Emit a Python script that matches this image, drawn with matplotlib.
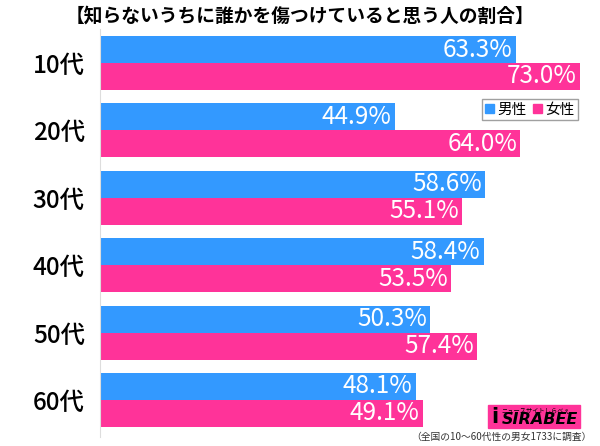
import matplotlib
matplotlib.use('Agg')
import matplotlib.pyplot as plt
from matplotlib.patches import Patch, Rectangle
import numpy as np

plt.rcParams['font.family'] = ['Noto Sans CJK JP', 'DejaVu Sans']

title = '【知らないうちに誰かを傷つけていると思う人の割合】'
categories = ['10代', '20代', '30代', '40代', '50代', '60代']
male = [63.3, 44.9, 58.6, 58.4, 50.3, 48.1]
female = [73.0, 64.0, 55.1, 53.5, 57.4, 49.1]
legend_labels = ['男性', '女性']
note = '（全国の10～60代性の男女1733に調査）'

blue = '#3399ff'
pink = '#ff3399'

fig = plt.figure(figsize=(6.0, 4.46), dpi=100)
ax = fig.add_axes([100 / 600, 1 - 437 / 446, 76 * 6.57 / 600, (437 - 29.3) / 446])

y = np.arange(len(categories))
h = 0.4
ax.barh(y - h / 2, male, height=h, color=blue)
ax.barh(y + h / 2, female, height=h, color=pink)

for i in range(len(categories)):
    ax.text(male[i] - 0.5, y[i] - h / 2, f'{male[i]:.1f}%', color='white',
            ha='right', va='center', fontsize=17.5)
    ax.text(female[i] - 0.5, y[i] + h / 2, f'{female[i]:.1f}%', color='white',
            ha='right', va='center', fontsize=17.5)

ax.set_xlim(0, 76)
ax.set_ylim(5.55, -0.5)
ax.set_yticks(y)
ax.set_yticklabels(categories, fontsize=17.5, fontweight='medium')
ax.tick_params(axis='y', length=0, pad=11)
ax.set_xticks([])
for s in ['top', 'right', 'bottom']:
    ax.spines[s].set_visible(False)
ax.spines['left'].set_color('#dddddd')

fig.text(0.5, 1 - 16 / 446, title, ha='center', va='center',
         fontsize=13.5, fontweight='bold')

handles = [Patch(color=blue), Patch(color=pink)]
leg = fig.legend(handles, legend_labels, loc='upper right',
                 bbox_to_anchor=(578 / 600, 1 - 99 / 446), ncol=2,
                 fontsize=10.5, frameon=True, fancybox=False,
                 handlelength=0.6, handleheight=0.6, handletextpad=0.2,
                 columnspacing=0.5, borderpad=0.25, borderaxespad=0)
leg.get_frame().set_edgecolor('#888888')
leg.get_frame().set_linewidth(1)

# logo
fig.patches.append(Rectangle((488 / 600, 1 - 428 / 446), 92 / 600, 23 / 446,
                             transform=fig.transFigure, color=pink, zorder=1))
fig.text(536 / 600, 1 - 410 / 446, 'ニュースサイトしらべぇ', ha='center', va='center',
         fontsize=4.5, color='black', zorder=2)
fig.text(540 / 600, 1 - 420 / 446, 'SIRABEE', ha='center', va='center',
         fontsize=11.5, fontweight='bold', style='italic', color='black',
         family='DejaVu Sans', zorder=2)
fig.text(495 / 600, 1 - 417 / 446, 'i', ha='center', va='center',
         fontsize=15, fontweight='bold', color='black', family='DejaVu Sans', zorder=2)

fig.text(592 / 600, 1 - 437 / 446, note, ha='right', va='center',
         fontsize=7, color='#333333')

fig.savefig('out.png', dpi=100)
